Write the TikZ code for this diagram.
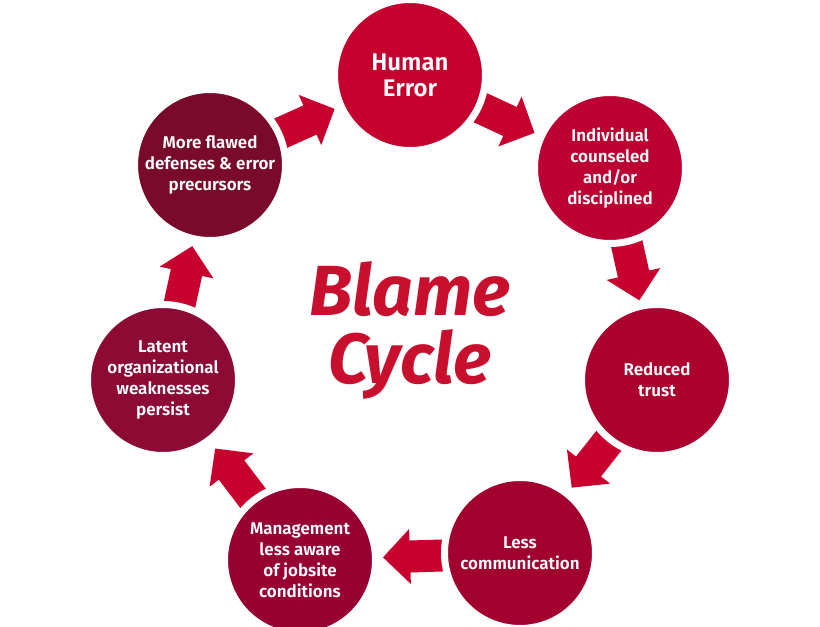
\documentclass[tikz,border=0pt]{standalone}
\usepackage{fontspec}
\setmainfont{Fira Sans}[BoldFont={Fira Sans SemiBold}, BoldItalicFont={Fira Sans SemiBold Italic}]
\usetikzlibrary{calc}
\pgfdeclarelayer{bg}
\pgfdeclarelayer{arrows}
\pgfsetlayers{bg,arrows,main}
\definecolor{arrowred}{HTML}{C8002E}
\definecolor{titlered}{HTML}{C8102E}
\definecolor{cA}{HTML}{C5002F}
\definecolor{cB}{HTML}{BC0031}
\definecolor{cC}{HTML}{AC002F}
\definecolor{cD}{HTML}{A2002F}
\definecolor{cE}{HTML}{980032}
\definecolor{cF}{HTML}{8C0A33}
\definecolor{cG}{HTML}{7A0A2C}
\tikzset{
  stage/.style={circle, draw=white, line width=7pt, minimum size=151pt, inner sep=0pt,
    text=white, align=center, font=\bfseries\fontsize{17}{21}\selectfont},
}
\newcommand{\cyclearrow}[2]{%
  \coordinate (m) at ($(#1)!0.5!(#2)$);
  \coordinate (tip) at ($(m)!27pt!(#2)$);
  \fill[arrowred] ($(#1)!16pt!90:(#2)$) -- ($(m)!16pt!90:(#2)$) -- ($(m)!27.5pt!90:(#2)$)
     -- (tip) -- ($(m)!27.5pt!-90:(#2)$) -- ($(m)!16pt!-90:(#2)$) -- ($(#1)!16pt!-90:(#2)$) -- cycle;
}
\begin{document}
\begin{tikzpicture}[x=1pt,y=-1pt]
\useasboundingbox (0,0) rectangle (820,627);
\begin{pgfonlayer}{bg}
\fill[white] (0,0) rectangle (820,627);
\end{pgfonlayer}
\node[stage, fill=cA, font=\bfseries\fontsize{24}{26}\selectfont] (s1) at (410,75) {Human\\Error};
\node[stage, fill=cB] (s2) at (610,168) {Individual\\counseled\\and/or\\disciplined};
\node[stage, fill=cC] (s3) at (657,380) {Reduced\\trust};
\node[stage, fill=cD] (s4) at (520,553) {Less\\communication};
\node[stage, fill=cE] (s5) at (300,560) {Management\\less aware\\of jobsite\\conditions};
\node[stage, fill=cF] (s6) at (163,380) {Latent\\organizational\\weaknesses\\persist};
\node[stage, fill=cG] (s7) at (210,165) {More flawed\\defenses \& error\\precursors};
\begin{pgfonlayer}{arrows}
\cyclearrow{s7}{s1}
\cyclearrow{s1}{s2}
\cyclearrow{s2}{s3}
\cyclearrow{s3}{s4}
\cyclearrow{s4}{s5}
\cyclearrow{s5}{s6}
\cyclearrow{s6}{s7}
\end{pgfonlayer}
\node[text=titlered, font=\fontspec{Fira Sans Bold Italic}\fontsize{71}{68}\selectfont, align=center, inner sep=0pt] (title) at (410,330) {Blame\\Cycle};
\end{tikzpicture}
\end{document}
